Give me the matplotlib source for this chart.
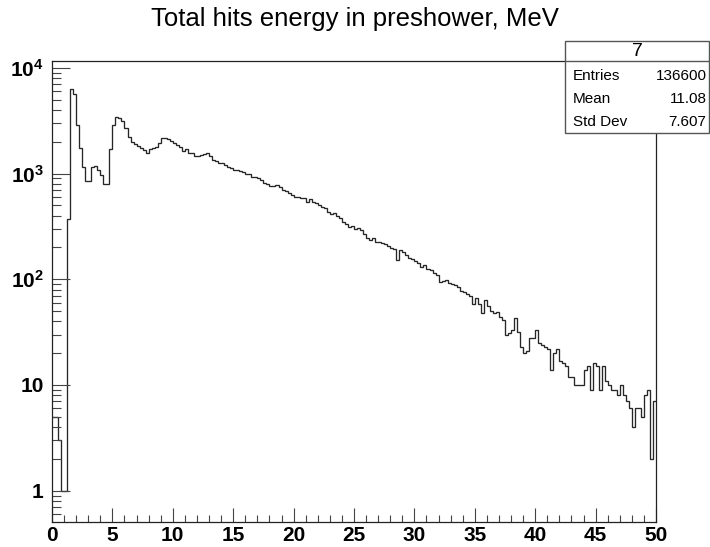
import matplotlib

matplotlib.use("Agg")

import matplotlib.pyplot as plt
import numpy as np
from matplotlib.lines import Line2D
from matplotlib.patches import Rectangle
from matplotlib.ticker import FixedLocator, MultipleLocator, NullFormatter

plt.rcParams["font.family"] = "Liberation Sans"
plt.rcParams["mathtext.fontset"] = "custom"
plt.rcParams["mathtext.rm"] = "Liberation Sans"
plt.rcParams["mathtext.bf"] = "Liberation Sans:bold"

# ── histogram: 200 bins of 0.25 MeV from 0 to 50 ──────────────────────────
X_MIN, X_MAX, N_BINS = 0.0, 50.0, 200
COUNTS = [
    5, 5, 3, 1, 1, 375, 6350, 5700, 2900, 1750,
    1155, 845, 845, 1155, 1190, 1080, 960, 800, 800, 1700,
    2900, 3440, 3370, 3130, 2670, 2220, 2000, 1920, 1830, 1750,
    1660, 1580, 1700, 1750, 1800, 1950, 2150, 2190, 2120, 2050,
    1950, 1870, 1800, 1650, 1690, 1580, 1555, 1450, 1470, 1500,
    1520, 1560, 1450, 1350, 1300, 1270, 1250, 1210, 1160, 1120,
    1080, 1080, 1060, 1040, 1000, 990, 935, 922, 905, 860,
    820, 800, 765, 765, 780, 745, 700, 690, 660, 628,
    605, 596, 583, 583, 540, 570, 540, 523, 505, 480,
    469, 436, 415, 427, 397, 378, 351, 330, 310, 319,
    300, 308, 295, 267, 248, 236, 248, 224, 227, 219,
    214, 208, 197, 194, 152, 190, 183, 168, 160, 156,
    149, 142, 132, 137, 125, 122, 114, 110, 94, 96,
    99, 92, 90, 88, 84, 78, 75, 73, 70, 58,
    66, 58, 48, 64, 56, 50, 48, 49, 44, 41,
    30, 31, 33, 43, 32, 23, 20, 21, 28, 28,
    33, 25, 24, 23, 22, 14, 20, 22, 17, 16,
    15, 12, 12, 10, 10, 10, 14, 15, 9, 16,
    15, 9, 15, 11, 10, 9, 9, 8, 10, 8,
    7, 6, 4, 6, 6, 5, 8, 9, 2, 7,
]

TITLE = "Total hits energy in preshower, MeV"
X_TICKS = [0, 5, 10, 15, 20, 25, 30, 35, 40, 45, 50]
Y_TICKS = [1, 10, 100, 1000, 10000]
Y_TICK_LABELS = ["1", "10", r"$\mathbf{10^{2}}$", r"$\mathbf{10^{3}}$",
                 r"$\mathbf{10^{4}}$"]

STATS_NAME = "7"
STATS_LABELS = ["Entries", "Mean", "Std Dev"]
STATS_VALUES = ["136600", "11.08", "7.607"]

fig = plt.figure(figsize=(7.1, 5.47), dpi=100)
ax = fig.add_axes([52 / 710, 1 - 522 / 547, 604 / 710, 461 / 547])

edges = np.linspace(X_MIN, X_MAX, N_BINS + 1)
ax.stairs(COUNTS, edges, color="#262626", lw=0.95, baseline=None)

ax.set_yscale("log")
ax.set_xlim(X_MIN, X_MAX)
ax.set_ylim(0.506, 11600)

ax.xaxis.set_major_locator(FixedLocator(X_TICKS))
ax.xaxis.set_minor_locator(MultipleLocator(1))
ax.set_xticklabels([str(t) for t in X_TICKS], fontweight="bold")
ax.yaxis.set_major_locator(FixedLocator(Y_TICKS))
ax.yaxis.set_minor_locator(FixedLocator(
    [m * 10.0 ** e for e in range(-1, 5) for m in range(2, 10)]))
ax.yaxis.set_minor_formatter(NullFormatter())
ax.set_yticklabels(Y_TICK_LABELS, fontweight="bold")

ax.tick_params(axis="both", which="both", direction="in", top=False,
               right=False, width=0.8, color="#444444", labelsize=15)
ax.tick_params(axis="x", which="major", length=10, pad=3)
ax.tick_params(axis="x", which="minor", length=5)
ax.tick_params(axis="y", which="major", length=13, pad=6)
ax.tick_params(axis="y", which="minor", length=6.5)
for sp in ax.spines.values():
    sp.set_linewidth(0.9)
    sp.set_color("#222222")

fig.text(0.5, 1 - 19 / 547, TITLE, ha="center", va="center", fontsize=18.5)

# ── stats box ───────────────────────────────────────────────────────────────
bx0, bx1 = 565 / 710, 709 / 710
by0, by1 = 1 - 132.7 / 547, 1 - 40.7 / 547
hy = 1 - 61 / 547
fig.add_artist(Rectangle((bx0, by0), bx1 - bx0, by1 - by0,
                         transform=fig.transFigure, facecolor="white",
                         edgecolor="#555555", lw=1.0, zorder=5))
fig.add_artist(Line2D([bx0, bx1], [hy, hy], transform=fig.transFigure,
                      color="#555555", lw=1.0, zorder=6))
fig.text((bx0 + bx1) / 2, 1 - 51 / 547, STATS_NAME, ha="center",
         va="center", fontsize=14, zorder=7)
for i, (lab, val) in enumerate(zip(STATS_LABELS, STATS_VALUES)):
    yy = 1 - (76 + i * 22.8) / 547
    fig.text(573 / 710, yy, lab, ha="left", va="center", fontsize=11,
             zorder=7)
    fig.text(706.5 / 710, yy, val, ha="right", va="center", fontsize=11,
             zorder=7)

fig.savefig("out.png", dpi=100)
